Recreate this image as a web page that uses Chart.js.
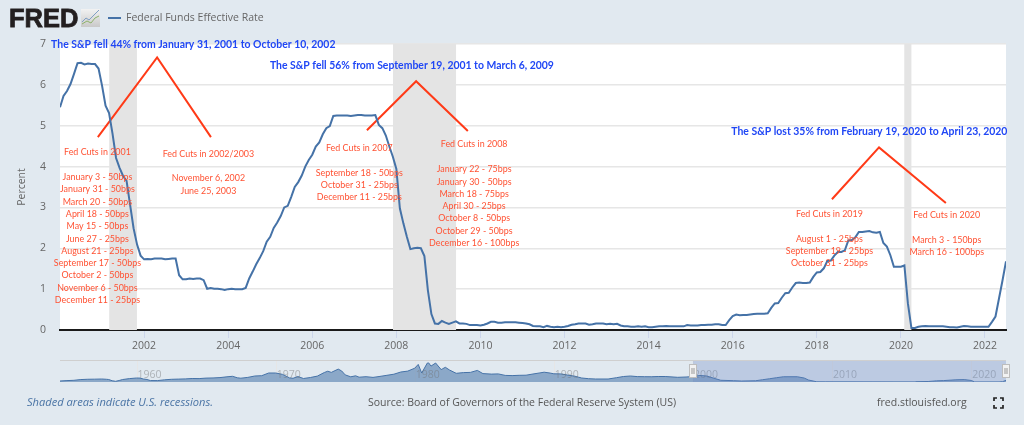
<!DOCTYPE html>
<html><head><meta charset="utf-8">
<style>
html,body{margin:0;padding:0;background:#e1e9f0;width:1024px;height:425px;overflow:hidden}
canvas{position:absolute;left:0;display:block;filter:blur(0.35px)}
#main{top:0}
#nav{top:350px}
</style>
<script src="https://cdn.jsdelivr.net/npm/chart.js@4"></script>
</head><body>
<canvas id="main" width="1024" height="425" style="width:1024px;height:425px"></canvas>
<canvas id="nav" width="1024" height="40" style="width:1024px;height:40px"></canvas>
<script>
const seriesName = "Federal Funds Effective Rate";
const yAxisTitle = "Percent";
const startYear = 2000;
const rate = [
5.45,5.73,5.85,6.02,6.27,6.53,6.54,6.50,6.52,6.51,6.51,6.40,
5.98,5.49,5.31,4.80,4.21,3.97,3.77,3.65,3.07,2.49,2.09,1.82,
1.73,1.74,1.73,1.75,1.75,1.75,1.73,1.74,1.75,1.75,1.34,1.24,
1.24,1.26,1.25,1.26,1.26,1.22,1.01,1.03,1.01,1.01,1.00,0.98,
1.00,1.01,1.00,1.00,1.00,1.03,1.26,1.43,1.61,1.76,1.93,2.16,
2.28,2.50,2.63,2.79,3.00,3.04,3.26,3.50,3.62,3.78,4.00,4.16,
4.29,4.49,4.59,4.79,4.94,4.99,5.24,5.25,5.25,5.25,5.25,5.24,
5.25,5.26,5.26,5.25,5.25,5.25,5.26,5.02,4.94,4.76,4.49,4.24,
3.94,2.98,2.61,2.28,1.98,2.00,2.01,2.00,1.81,0.97,0.39,0.16,
0.15,0.22,0.18,0.15,0.18,0.21,0.16,0.16,0.15,0.12,0.12,0.12,
0.11,0.13,0.16,0.20,0.20,0.18,0.18,0.19,0.19,0.19,0.19,0.18,
0.17,0.16,0.14,0.10,0.09,0.09,0.07,0.10,0.08,0.07,0.08,0.07,
0.08,0.10,0.13,0.14,0.16,0.16,0.16,0.13,0.14,0.16,0.16,0.16,
0.14,0.15,0.14,0.15,0.11,0.09,0.09,0.08,0.08,0.09,0.08,0.09,
0.07,0.07,0.08,0.09,0.09,0.10,0.09,0.09,0.09,0.09,0.09,0.12,
0.11,0.11,0.11,0.12,0.12,0.13,0.13,0.14,0.14,0.12,0.12,0.24,
0.34,0.38,0.36,0.37,0.37,0.38,0.39,0.40,0.40,0.40,0.41,0.54,
0.65,0.66,0.79,0.90,0.91,1.04,1.15,1.16,1.15,1.15,1.16,1.30,
1.41,1.42,1.51,1.69,1.70,1.82,1.91,1.91,1.95,2.19,2.20,2.27,
2.40,2.40,2.41,2.42,2.39,2.38,2.40,2.13,2.04,1.83,1.55,1.55,
1.55,1.58,0.65,0.05,0.05,0.08,0.09,0.10,0.09,0.09,0.09,0.09,
0.09,0.08,0.07,0.07,0.06,0.08,0.10,0.09,0.08,0.08,0.08,0.08,
0.08,0.08,0.20,0.33,0.77,1.21,1.68];
const xTickYears = [2002,2004,2006,2008,2010,2012,2014,2016,2018,2020,2022];
const yTickValues = [0,1,2,3,4,5,6,7];
const recessions = [[2001.17,2001.83],[2007.92,2009.42],[2020.08,2020.25]];

const peak1x = [2000.90,2002.31,2003.59], peak1y = [4.72,6.67,4.72];
const peak2x = [2007.30,2008.47,2009.70], peak2y = [4.89,6.09,4.87];
const peak3x = [2018.36,2019.48,2021.07], peak3y = [3.20,4.47,3.11];

const spNotes = [
 {x:2003.17,y:7.00,text:"The S&P fell 44% from January 31, 2001 to October 10, 2002"},
 {x:2008.37,y:6.48,text:"The S&P fell 56% from September 19, 2001 to March 6, 2009"},
 {x:2019.25,y:4.87,text:"The S&P lost 35% from February 19, 2020 to April 23, 2020"}
];
const cutNotes = [
 {x:2000.89,titleY:4.35,listY:3.75,title:"Fed Cuts in 2001",lines:["January 3 - 50bps","January 31 - 50bps","March 20 - 50bps","April 18 - 50bps","May 15 - 50bps","June 27 - 25bps","August 21 - 25bps","September 17 - 50bps","October 2 - 50bps","November 6 - 50bps","December 11 - 25bps"]},
 {x:2003.53,titleY:4.32,listY:3.72,title:"Fed Cuts in 2002/2003",lines:["November 6, 2002","June 25, 2003"]},
 {x:2007.12,titleY:4.46,listY:3.86,title:"Fed Cuts in 2007",lines:["September 18 - 50bps","October 31 - 25bps","December 11 - 25bps"]},
 {x:2009.85,titleY:4.55,listY:3.94,title:"Fed Cuts in 2008",lines:["January 22 - 75bps","January 30 - 50bps","March 18 - 75bps","April 30 - 25bps","October 8 - 50bps","October 29 - 50bps","December 16 - 100bps"]},
 {x:2018.30,titleY:2.85,listY:2.24,title:"Fed Cuts in 2019",lines:["August 1 - 25bps","September 19 - 25bps","October 31 - 25bps"]},
 {x:2021.09,titleY:2.81,listY:2.21,title:"Fed Cuts in 2020",lines:["March 3 - 150bps","March 16 - 100bps"]}
];

const navYears = [1954.5,1955,1955.5,1956,1956.5,1957,1957.5,1957.83,1958,1958.25,1958.5,1958.75,1959,1959.5,1960,1960.25,1960.5,1960.75,1961,1961.5,1962,1962.5,1963,1963.5,1964,1964.5,1965,1965.5,1966,1966.5,1966.9,1967.25,1967.5,1968,1968.5,1969,1969.5,1970,1970.5,1971,1971.25,1971.6,1972,1972.5,1973,1973.5,1973.75,1974,1974.5,1974.75,1975,1975.4,1975.75,1976,1976.5,1977,1977.5,1978,1978.5,1979,1979.5,1980,1980.25,1980.5,1980.9,1981,1981.17,1981.5,1981.9,1982,1982.2,1982.5,1982.9,1983,1983.5,1984,1984.5,1984.9,1985.5,1986,1986.5,1987,1987.5,1988,1988.5,1989,1989.3,1989.75,1990,1990.5,1991,1991.5,1992,1992.5,1993,1993.9,1994.5,1995,1995.5,1996,1996.5,1997,1997.5,1998,1998.9,1999.5,2000,2000.5,2001,2001.5,2002,2002.9,2003.5,2004.5,2005,2005.5,2006,2006.5,2007.5,2008,2008.3,2008.9,2009.5,2015.9,2016,2016.9,2017.5,2018,2018.9,2019.5,2020,2020.25,2022,2022.25,2022.5];
const navRates = [1.0,1.4,1.7,2.45,2.75,2.84,3.0,2.72,2.5,1.26,0.68,1.5,2.48,3.4,3.99,3.9,3.0,2.5,1.45,1.4,2.15,2.7,2.9,3.1,3.5,3.4,3.9,4.05,4.4,5.2,5.7,4.2,3.8,4.6,6.0,6.3,9.0,9.0,7.6,4.1,3.7,5.5,3.5,4.5,5.9,9.5,10.8,9.6,12.9,11.0,7.1,5.2,6.2,4.8,5.3,4.6,5.6,6.7,7.8,10.0,10.9,13.8,17.6,9.0,18.9,19.1,15.9,19.0,12.4,13.2,14.7,12.0,9.2,8.7,9.4,9.6,11.6,8.4,7.9,8.1,6.6,6.4,6.7,6.8,8.0,9.1,9.8,8.9,8.2,8.1,6.9,5.8,4.0,3.3,3.0,3.0,4.3,5.5,6.0,5.4,5.3,5.25,5.5,5.5,4.7,5.0,5.45,6.54,5.98,3.77,1.73,1.34,1.0,1.26,2.28,3.26,4.29,5.24,5.26,3.94,2.0,0.2,0.16,0.12,0.34,0.5,1.15,1.41,2.2,2.4,1.55,0.05,0.08,0.33,1.68];
const navTickYears = [1960,1970,1980,1990,2000,2010,2020];
const navSelection = [2000,2022.5];

const pts = (xs,ys)=>xs.map((x,i)=>({x,y:ys[i]}));
const months = rate.map((_,i)=>startYear+i/12);
const RED="#ff5233", BLUE="#2047f5", LINE="#4572a7";
const redLine = (xs,ys)=>({data:pts(xs,ys),borderColor:"#ff3a17",borderWidth:2,pointRadius:0,tension:0,fill:false});

function squeezed(ctx,text,x,y,k){
 ctx.save();ctx.translate(x,y);ctx.scale(k,1);ctx.fillText(text,0,0);ctx.restore();
}

const chrome = {
 id:'chrome',
 beforeDraw(c){
  const {ctx,chartArea:a}=c;
  ctx.save();ctx.fillStyle="#fff";ctx.fillRect(a.left,a.top,a.right-a.left,a.bottom-a.top);ctx.restore();
 },
 beforeDatasetsDraw(c){
  const {ctx,chartArea:a,scales:{x}}=c;
  ctx.save();ctx.fillStyle="#e4e4e4";
  recessions.forEach(([s,e])=>{const p=x.getPixelForValue(s),q=x.getPixelForValue(e);ctx.fillRect(p,a.top,q-p,a.bottom-a.top);});
  ctx.restore();
 },
 afterDatasetsDraw(c){
  const {ctx,scales:{x,y}}=c;
  ctx.save();ctx.textAlign="center";ctx.textBaseline="middle";
  ctx.fillStyle=BLUE;ctx.font="bold 11.5px Lato";
  spNotes.forEach(n=>squeezed(ctx,n.text,x.getPixelForValue(n.x),y.getPixelForValue(n.y),0.907));
  ctx.fillStyle=RED;ctx.font="10px Lato";
  cutNotes.forEach(n=>{
   const px=x.getPixelForValue(n.x);
   squeezed(ctx,n.title,px,y.getPixelForValue(n.titleY),0.89);
   const y0=y.getPixelForValue(n.listY);
   n.lines.forEach((t,i)=>squeezed(ctx,t,px,y0+i*12.3,0.89));
  });
  ctx.restore();
 },
 afterDraw(c){
  const {ctx}=c;
  ctx.save();
  ctx.fillStyle="#231f20";ctx.strokeStyle="#231f20";ctx.lineWidth=0.8;
  ctx.font="bold 25.5px 'Liberation Sans'";ctx.textBaseline="alphabetic";ctx.textAlign="left";
  ctx.fillText("FRED",9,27);ctx.strokeText("FRED",9,27);
  const g=ctx.createLinearGradient(0,9,0,27);g.addColorStop(0,"#f2f2f2");g.addColorStop(1,"#c9c9c9");
  ctx.fillStyle=g;ctx.fillRect(81,9,19,18);
  ctx.lineWidth=1;ctx.strokeStyle="#7f9fc4";ctx.beginPath();ctx.moveTo(82,22);ctx.lineTo(86,18);ctx.lineTo(89,20);ctx.lineTo(94,15);ctx.lineTo(99,10);ctx.stroke();
  ctx.strokeStyle="#8db26a";ctx.beginPath();ctx.moveTo(82,24);ctx.lineTo(87,21);ctx.lineTo(91,23);ctx.lineTo(95,18);ctx.lineTo(99,16);ctx.stroke();
  ctx.strokeStyle=LINE;ctx.lineWidth=2;ctx.beginPath();ctx.moveTo(108,18);ctx.lineTo(121,18);ctx.stroke();
  ctx.fillStyle="#666";ctx.font="10.5px 'Open Sans'";ctx.textBaseline="middle";
  ctx.fillText(seriesName,126,18.5);
  ctx.fillStyle="#4a74a5";ctx.font="italic 11.1px 'Open Sans'";
  ctx.fillText("Shaded areas indicate U.S. recessions.",27,403);
  ctx.fillStyle="#555";ctx.font="10.5px 'Open Sans'";
  ctx.fillText("Source: Board of Governors of the Federal Reserve System (US)",368,403);
  ctx.fillText("fred.stlouisfed.org",877,403);
  ctx.strokeStyle="#222";ctx.lineWidth=1.7;
  [[994,398,1,1],[1003,398,-1,1],[994,408,1,-1],[1003,408,-1,-1]].forEach(([a,b,sx,sy])=>{
   ctx.beginPath();ctx.moveTo(a+3*sx,b);ctx.lineTo(a,b);ctx.lineTo(a,b+3*sy);ctx.stroke();});
  ctx.restore();
 }
};

new Chart(document.getElementById('main'),{
 type:'line',
 data:{datasets:[
  {data:pts(months,rate),borderColor:LINE,borderWidth:2,pointRadius:0,tension:0,fill:false},
  redLine(peak1x,peak1y),redLine(peak2x,peak2y),redLine(peak3x,peak3y)
 ]},
 options:{
  responsive:false,animation:false,
  layout:{padding:{left:0,right:18,top:44,bottom:65}},
  plugins:{legend:{display:false},tooltip:{enabled:false},title:{display:false}},
  scales:{
   x:{type:'linear',min:2000,max:2022.5,
    afterBuildTicks(s){s.ticks=xTickYears.map(v=>({value:v}));},
    afterFit(s){s.height=30;},
    grid:{drawOnChartArea:false,drawTicks:true,tickLength:8,tickColor:"#ccd6eb",tickWidth:1},
    border:{color:"#1a1a1a",width:2},
    ticks:{autoSkip:false,maxRotation:0,padding:2,color:"#666",font:{family:"'Open Sans'",size:10.5},callback:v=>String(v)}
   },
   y:{min:0,max:7,
    afterBuildTicks(s){s.ticks=yTickValues.map(v=>({value:v}));},
    afterFit(s){s.width=60;},
    grid:{color:"#e6e6e6",lineWidth:1.5,drawTicks:false},
    border:{display:false},
    ticks:{padding:14,color:"#666",font:{family:"'Open Sans'",size:10.5}},
    title:{display:true,text:yAxisTitle,color:"#666",font:{family:"'Open Sans'",size:10.5},padding:{top:16,bottom:0}}
   }
  }
 },
 plugins:[chrome]
});

const navPlugin = {
 id:'navPlugin',
 beforeDatasetsDraw(c){
  const {ctx,chartArea:a,scales:{x}}=c;
  ctx.save();ctx.strokeStyle="#e6e6e6";ctx.lineWidth=1;
  navTickYears.forEach(v=>{const p=Math.round(x.getPixelForValue(v))+.5;ctx.beginPath();ctx.moveTo(p,a.top);ctx.lineTo(p,a.bottom);ctx.stroke();});
  ctx.restore();
 },
 afterDatasetsDraw(c){
  const {ctx,chartArea:a,scales:{x}}=c;
  ctx.save();
  ctx.font="10.5px 'Open Sans'";ctx.fillStyle="rgba(110,110,110,0.45)";ctx.textAlign="center";ctx.textBaseline="middle";
  navTickYears.forEach(v=>ctx.fillText(String(v),x.getPixelForValue(v)+13,a.bottom-7));
  const s=x.getPixelForValue(navSelection[0]),e=x.getPixelForValue(navSelection[1]);
  ctx.fillStyle="rgba(102,133,194,0.3)";ctx.fillRect(s,a.top,e-s,a.bottom-a.top);
  ctx.strokeStyle="#cfcfcf";ctx.lineWidth=1;
  ctx.beginPath();ctx.moveTo(a.left,a.top+.5);ctx.lineTo(a.right,a.top+.5);ctx.stroke();
  [s,e].forEach(p=>{
   ctx.fillStyle="#f2f2f2";ctx.strokeStyle="#bdbdbd";
   const px=Math.round(p);
   ctx.fillRect(px-3.5,a.top+4.5,7,13);ctx.strokeRect(px-3.5,a.top+4.5,7,13);
   ctx.strokeStyle="#999";
   ctx.beginPath();ctx.moveTo(px-1,a.top+8);ctx.lineTo(px-1,a.top+14);ctx.moveTo(px+1,a.top+8);ctx.lineTo(px+1,a.top+14);ctx.stroke();
  });
  ctx.restore();
 }
};

new Chart(document.getElementById('nav'),{
 type:'line',
 data:{datasets:[{data:pts(navYears,navRates),borderColor:"#4572a7",borderWidth:1,pointRadius:0,tension:0,fill:'origin',backgroundColor:"rgba(69,114,167,0.55)"}]},
 options:{
  responsive:false,animation:false,
  layout:{padding:{left:60,right:18,top:10,bottom:8}},
  plugins:{legend:{display:false},tooltip:{enabled:false}},
  scales:{x:{type:'linear',display:false,min:1954.5,max:2022.5},y:{display:false,min:0,max:22}}
 },
 plugins:[navPlugin]
});
</script>
</body></html>
